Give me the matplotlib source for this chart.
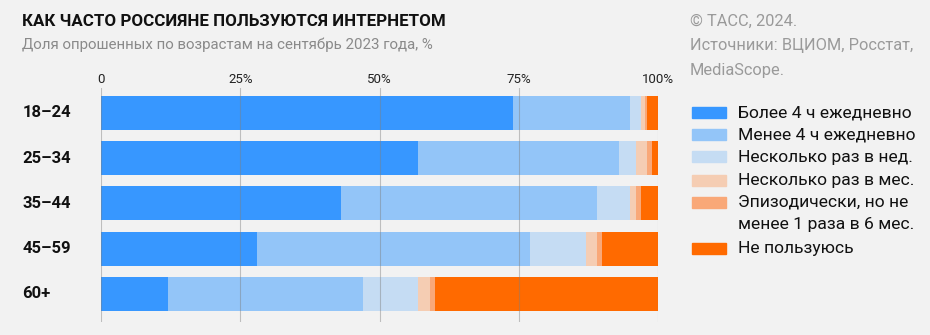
import matplotlib.pyplot as plt
from matplotlib.patches import Rectangle
import numpy as np

plt.rcParams['font.family'] = ['Roboto', 'DejaVu Sans']

# data (percent of respondents)
ages = ['18–24', '25–34', '35–44', '45–59', '60+']
more4h = [74, 57, 43, 28, 12]
less4h = [21, 36, 46, 49, 35]
week = [2, 3, 6, 10, 10]
month = [0.6, 2, 1, 2, 2]
episodic = [0.4, 1, 1, 1, 1]
never = [2, 1, 3, 10, 40]

series = [more4h, less4h, week, month, episodic, never]
labels = ['Более 4 ч ежедневно', 'Менее 4 ч ежедневно', 'Несколько раз в нед.',
          'Несколько раз в мес.', 'Эпизодически, но не\nменее 1 раза в 6 мес.', 'Не пользуюсь']
colors = ['#3797FF', '#93C5F8', '#C5DCF3', '#F5CDB3', '#F9A878', '#FF6A00']
ticks = [0, 25, 50, 75, 100]
tick_labels = ['0', '25%', '50%', '75%', '100%']

W, H = 930, 335
bg = '#F2F2F2'
fig = plt.figure(figsize=(W / 100, H / 100), dpi=100, facecolor=bg)
ax = fig.add_axes([101 / W, 1 - 322 / H, 557 / W, (322 - 88) / H], facecolor=bg)

y = np.arange(len(ages))
left = np.zeros(len(ages))
for vals, col in zip(series, colors):
    ax.barh(y, vals, left=left, height=0.75, color=col, zorder=1)
    left += np.array(vals)

ax.set_xlim(0, 100)
ax.set_ylim(4.62, -0.55)
for t in ticks:
    ax.axvline(t, color='#7f7f7f', alpha=0.45, lw=0.8, zorder=3)
for s in ax.spines.values():
    s.set_visible(False)
ax.set_yticks([])
ax.xaxis.tick_top()
ax.set_xticks(ticks)
ax.set_xticklabels(tick_labels, fontsize=9.5, color='#222222')
ax.tick_params(axis='x', length=0, pad=1.5)

for i, a in enumerate(ages):
    ax.text(-0.141, i, a, transform=ax.get_yaxis_transform(), ha='left', va='center',
            fontsize=12, fontweight='bold', color='#111111')

# titles
fig.text(22 / W, 1 - 21 / H, 'КАК ЧАСТО РОССИЯНЕ ПОЛЬЗУЮТСЯ ИНТЕРНЕТОМ', fontsize=12.2,
         fontweight='bold', color='#111111', va='center', ha='left')
fig.text(22 / W, 1 - 45 / H, 'Доля опрошенных по возрастам на сентябрь 2023 года, %',
         fontsize=10.8, color='#8a8a8a', va='center', ha='left')
src = ['© ТАСС, 2024.', 'Источники: ВЦИОМ, Росстат,', 'MediaScope.']
for k, s in enumerate(src):
    fig.text(690 / W, 1 - (21 + 24.5 * k) / H, s, fontsize=11.8, color='#9a9a9a',
             va='center', ha='left')

# legend
ly = [113, 135, 157, 180, 202, 248]
for yy, lab, col in zip(ly, labels, colors):
    fig.patches.append(Rectangle((692 / W, 1 - (yy + 5.5) / H), 34 / W, 11 / H,
                                 transform=fig.transFigure, color=col))
    lines = lab.split('\n')
    for j, ln in enumerate(lines):
        fig.text(738 / W, 1 - (yy + 23 * j) / H, ln, fontsize=12.6, color='#111111',
                 va='center', ha='left')

fig.savefig('out.png', dpi=100, facecolor=bg)
